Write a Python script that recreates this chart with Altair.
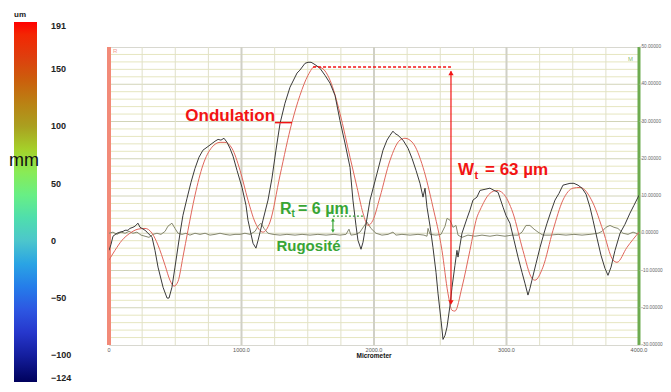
import altair as alt
import pandas as pd

# ---------------- data ----------------
profile_x = [0, 15, 30, 60, 83, 106, 121, 143, 158, 181, 196, 219, 234, 249, 272, 287, 325, 347, 370, 408,
             438, 453, 475, 498, 536, 558, 589, 619, 649, 679, 709, 740, 770, 800, 823, 845, 868, 891, 913, 936,
             966, 1004, 1034, 1049, 1087, 1109, 1125, 1162, 1200, 1230, 1260, 1291, 1328, 1366, 1419, 1441, 1479,
             1502, 1525, 1540, 1562, 1592, 1630, 1668, 1706, 1743, 1781, 1819, 1841, 1864, 1879, 1902, 1917, 1932,
             1970, 2023, 2068, 2098, 2121, 2143, 2158, 2181, 2219, 2257, 2287, 2317, 2347, 2370, 2385, 2400, 2423,
             2445, 2468, 2483, 2506, 2521, 2536, 2551, 2574, 2589, 2611, 2626, 2634, 2649, 2664, 2702, 2724, 2747,
             2777, 2800, 2838, 2875, 2906, 2936, 2974, 2996, 3026, 3057, 3087, 3117, 3139, 3162, 3177, 3192, 3223,
             3253, 3283, 3306, 3336, 3366, 3396, 3426, 3457, 3479, 3509, 3540, 3570, 3600, 3630, 3653, 3683, 3713,
             3743, 3766, 3789, 3819, 3857, 3894, 3932, 3962, 4000]
profile_y = [-4.6, -3.0, -0.8, 0.0, 0.3, 0.5, 0.8, 0.8, 1.3, 1.6, 1.9, 2.7, 1.6, 1.3, 0.8, 0.3, -1.1, -4.6, -9.1, -14.5,
             -17.4, -17.4, -14.5, -9.1, 0.0, 4.8, 9.4, 13.7, 17.4, 20.4, 22.3, 23.1, 23.9, 24.7, 25.2, 25.0, 25.5, 24.4, 22.8, 20.7,
             16.9, 12.3, 7.5, 3.5, -2.7, -4.0, -1.9, 3.5, 8.9, 14.8, 22.3, 29.5, 34.9, 39.2, 43.0, 43.8, 45.6,
             45.9, 45.9, 45.6, 45.1, 44.3, 42.4, 40.3, 37.0, 30.3, 24.2, 17.7, 8.9, 2.1, -1.9, -4.3, -2.4, 0.8,
             8.9, 16.1, 22.3, 25.0, 26.3, 27.4, 26.8, 26.3, 25.0, 22.8, 20.1, 16.9, 13.4, 9.7, 12.1, 7.0, 1.9,
             -3.8, -10.5, -16.1, -23.4, -28.5, -27.4, -25.2, -19.3, -14.5, -8.6, -4.6, -6.4, -3.2, 0.0, 4.0, 6.2, 8.9,
             9.7, 11.5, 11.8, 12.1, 11.5, 11.0, 7.0, 4.8, 2.7, -1.9, -6.4, -10.5, -13.4, -16.6, -14.8, -12.6, -8.1,
             -3.8, 0.0, 2.7, 5.9, 8.9, 10.7, 12.9, 13.2, 13.4, 13.4, 12.9, 12.1, 10.5, 7.0, 3.5, -1.3, -5.9,
             -9.4, -11.3, -9.1, -4.6, 0.0, 2.4, 5.4, 7.5, 10.2]

wave_x = [0, 45, 98, 158, 219, 272, 325, 370, 423, 460, 491, 521, 558, 596, 649, 709, 777, 838, 875, 928,
          989, 1049, 1102, 1162, 1215, 1291, 1381, 1441, 1502, 1555, 1608, 1668, 1743, 1819, 1872, 1917, 1955,
          1992, 2045, 2121, 2196, 2234, 2294, 2370, 2445, 2513, 2558, 2589, 2611, 2664, 2724, 2777, 2800, 2875,
          2928, 2974, 3049, 3124, 3192, 3215, 3275, 3351, 3426, 3502, 3555, 3653, 3728, 3804, 3834, 3909, 4000]
wave_y = [-7.2, -4.6, -1.9, 0.0, 1.1, 1.3, 0.0, -3.2, -8.6, -12.6, -14.2, -12.9, -6.4, 0.8, 10.2, 18.3, 23.1, 24.4, 24.4, 22.8,
          16.9, 8.9, 3.0, 0.3, 3.0, 15.6, 29.8, 37.0, 42.4, 44.8, 44.3, 41.1, 32.2, 20.4, 12.3, 5.4, 2.1,
          3.5, 9.7, 19.6, 25.0, 25.5, 24.2, 17.7, 7.0, -4.6, -16.1, -20.7, -20.9, -14.5, -4.6, 4.3, 6.2, 10.7,
          11.5, 10.7, 5.4, -4.6, -12.1, -12.6, -9.1, 0.8, 8.9, 12.1, 12.3, 8.1, 0.8, -7.2, -7.8, -3.8, 0.3]

rough_x = [0, 30, 60, 91, 121, 151, 181, 211, 242, 272, 302, 332, 362, 392, 423, 445, 475, 498, 521, 551,
           581, 611, 649, 687, 725, 762, 800, 838, 875, 913, 951, 989, 1026, 1064, 1102, 1125, 1147, 1170, 1200,
           1238, 1291, 1343, 1404, 1457, 1517, 1577, 1638, 1698, 1743, 1789, 1811, 1826, 1864, 1894, 1924, 1947,
           1977, 2015, 2060, 2106, 2143, 2166, 2211, 2272, 2332, 2377, 2400, 2408, 2423, 2468, 2506, 2536, 2551,
           2574, 2596, 2619, 2634, 2664, 2709, 2762, 2815, 2875, 2928, 2989, 3041, 3087, 3117, 3147, 3177, 3208,
           3238, 3275, 3328, 3389, 3449, 3509, 3570, 3630, 3691, 3721, 3751, 3781, 3811, 3841, 3879, 3917, 3955, 4000]
rough_y = [0.0, 0.3, -0.3, 0.3, 0.0, 0.5, 0.0, 0.3, -0.5, -0.8, -1.1, -0.3, 0.0, -0.3, 0.5, 1.9, 2.7, 1.3, 0.0, -0.3,
           0.0, -0.5, 0.0, -0.3, 0.0, -0.5, -0.3, 0.0, -0.3, -0.5, -0.3, -0.3, 0.0, -0.3, 0.5, 1.9, 2.7, 1.3, 0.0,
           -0.3, -0.5, -0.3, -0.5, -0.3, -0.5, -0.3, -0.5, -0.3, -0.5, -0.3, 1.1, -0.5, -0.3, 0.3, 1.9, 3.0,
           1.3, 0.0, -0.5, -0.3, 0.3, -0.5, -0.3, -0.5, -0.3, -0.5, -0.8, 1.3, -0.3, -0.5, -0.3, 1.9, 4.0,
           3.5, 1.6, 2.1, -0.5, -1.1, -0.5, -0.8, -0.5, -0.8, -0.5, -0.8, -0.5, -0.5, 0.3, 2.1, 2.1, 1.1,
           0.3, -0.5, -0.5, -0.3, -0.5, -0.3, -0.5, -0.3, 0.0, 0.5, 1.6, 2.1, 1.6, 1.3, 0.0, -0.3, 0.3, -0.3]

scale_ticks = [191, 150, 100, 50, 0, -50, -100, -124]
scale_stops = [-124, -100, -75, -50, -25, 0, 25, 50, 75, 100, 125, 150, 191]
scale_colors = ["#00005a", "#141e9e", "#2a3ed8", "#3366e8", "#3f9ae6", "#4cc6cc", "#5fe3a0",
                "#78f56e", "#a0dc32", "#aaa020", "#bd7a16", "#d44614", "#ff0000"]
x_ticks = [0, 1000, 2000, 3000, 4000]
x_tick_labels = ["0", "1000.0", "2000.0", "3000.0", "4000.0"]
y_ticks = [-30, -20, -10, 0, 10, 20, 30, 40, 50]
y_tick_labels = ["-30.00000", "-20.00000", "-10.00000", "0.00000", "10.00000", "20.00000",
                 "30.00000", "40.00000", "50.00000"]

X = alt.Scale(domain=[0, 4000], nice=False, zero=False)
Y = alt.Scale(domain=[-30, 50], nice=False, zero=False)
FONT = "Liberation Sans"
RED = "#f21414"
GREEN = "#38a535"


def xq():
    return alt.X("x:Q", scale=X, axis=None)


def yq():
    return alt.Y("y:Q", scale=Y, axis=None)


# ---------------- gridlines ----------------
vmin = pd.DataFrame({"x": [v for v in range(250, 4000, 250) if v % 1000]})
vmaj = pd.DataFrame({"x": [1000, 2000, 3000]})
hmin = pd.DataFrame({"y": [v for v in range(-28, 50, 2) if v % 10]})
hmaj = pd.DataFrame({"y": [-20, -10, 0, 10, 20, 30, 40]})

grid = [
    alt.Chart(hmin).mark_rule(color="#e6e6c0", strokeWidth=1).encode(y=yq()),
    alt.Chart(hmaj).mark_rule(color="#d2d4b8", strokeWidth=1).encode(y=yq()),
    alt.Chart(vmin).mark_rule(color="#e0e0c8", strokeWidth=1).encode(x=xq()),
    alt.Chart(vmaj).mark_rule(color="#d0d0c6", strokeWidth=2).encode(x=xq()),
]

# ---------------- axis labels as text on the scales ----------------
xlab = alt.Chart(pd.DataFrame({"x": x_ticks, "y": [-30] * len(x_ticks), "t": x_tick_labels})).mark_text(
    fontSize=5.5, font=FONT, color="#555", baseline="middle", align="center", dy=5).encode(
    x=xq(), y=yq(), text="t:N")
xtitle = alt.Chart(pd.DataFrame({"x": [2000], "y": [-30], "t": ["Micrometer"]})).mark_text(
    fontSize=6.5, font=FONT, fontWeight="bold", color="#111", baseline="middle", align="center", dy=11).encode(
    x=xq(), y=yq(), text="t:N")
ylab = alt.Chart(pd.DataFrame({"x": [4000] * len(y_ticks), "y": y_ticks, "t": y_tick_labels})).mark_text(
    fontSize=4.7, font=FONT, color="#666", baseline="middle", align="left", dx=2.5).encode(
    x=xq(), y=yq(), text="t:N")
ytick = alt.Chart(pd.DataFrame({"y": y_ticks})).mark_tick(
    color="#bbb", size=3, thickness=1, orient="horizontal", xOffset=2).encode(
    x=alt.value(530), y=yq())

# edge bars
left_bar = alt.Chart(pd.DataFrame({"x": [0]})).mark_rule(color="#f28a78", strokeWidth=4).encode(x=xq())
right_bar = alt.Chart(pd.DataFrame({"x": [4000]})).mark_rule(color="#6dab50", strokeWidth=3).encode(x=xq())

# series
rough = alt.Chart(pd.DataFrame({"x": rough_x, "y": rough_y})).mark_line(
    color="#85876e", strokeWidth=1, clip=True).encode(x=xq(), y=yq())
wave = alt.Chart(pd.DataFrame({"x": wave_x, "y": wave_y})).mark_line(
    color="#e0665c", strokeWidth=1, interpolate="monotone", clip=True).encode(x=xq(), y=yq())
profile = alt.Chart(pd.DataFrame({"x": profile_x, "y": profile_y})).mark_line(
    color="#3a3a3a", strokeWidth=1, clip=True).encode(x=xq(), y=yq())


# ---------------- annotations ----------------
def txt(x, y, text, color, size, align="left", dx=0, dy=0, weight="bold"):
    return alt.Chart(pd.DataFrame({"x": [x], "y": [y], "t": [text]})).mark_text(
        color=color, fontSize=size, font=FONT, fontWeight=weight, align=align, baseline="middle",
        dx=dx, dy=dy).encode(x=xq(), y=yq(), text="t:N")


def seg(x1, y1, x2, y2, color, width=1.5, dash=None):
    kw = dict(color=color, strokeWidth=width)
    if dash:
        kw["strokeDash"] = dash
    return alt.Chart(pd.DataFrame({"x": [x1], "y": [y1], "x2": [x2], "y2": [y2]})).mark_rule(**kw).encode(
        x=xq(), y=yq(), x2="x2:Q", y2="y2:Q")


def head(x, y, shape, color, size):
    return alt.Chart(pd.DataFrame({"x": [x], "y": [y]})).mark_point(
        shape=shape, filled=True, color=color, size=size, opacity=1).encode(x=xq(), y=yq())


annot = [
    txt(1253, 31.5, "Ondulation", RED, 17, align="right"),
    seg(1253, 29.7, 1381, 29.7, RED, 1.5),
    seg(1540, 44.6, 2581, 44.6, RED, 1.5, [3, 2]),
    seg(2581, 43.5, 2581, -18.5, RED, 1.2),
    head(2581, 43.0, "triangle-up", RED, 28),
    head(2581, -18.6, "triangle-down", RED, 28),
    txt(2634, 16.9, "W", RED, 17),
    txt(2634, 16.9, "t", RED, 11, dx=16.5, dy=6),
    txt(2634, 16.9, "= 63 µm", RED, 17, dx=27),
    txt(1291, 6.6, "R", GREEN, 16),
    txt(1291, 6.6, "t", GREEN, 10, dx=11.5, dy=5),
    txt(1291, 6.6, "= 6 µm", GREEN, 16, dx=18),
    seg(1690, 4.6, 1932, 4.6, GREEN, 1.2, [2, 2]),
    seg(1690, 3.8, 1690, 0.6, GREEN, 1.2),
    head(1690, 3.6, "triangle-up", GREEN, 14),
    head(1690, 0.6, "triangle-down", GREEN, 14),
    txt(1506, -3.5, "Rugosité", GREEN, 15, align="center"),
    txt(30, 48.8, "R", "#f2a090", 6, weight="normal"),
    txt(3917, 46.7, "M", "#8cc070", 6, weight="normal"),
]

# colour bar (as a gradient legend); labels padded with no-break spaces to sit right-aligned
NB = "\u00a0"
label_expr = ("datum.value >= 100 || datum.value <= -100 ? datum.label : "
              "(datum.value < 0 ? '" + NB + "' + datum.label : "
              "(datum.value >= 10 ? '" + NB * 2 + "' + datum.label : '" + NB * 4 + "' + datum.label))")
cbar = alt.Chart(pd.DataFrame({"v": scale_ticks})).mark_point(size=0, filled=True, fillOpacity=0).encode(
    color=alt.Color("v:Q", scale=alt.Scale(domain=scale_stops, range=scale_colors),
                    legend=alt.Legend(orient="none", legendX=-95, legendY=-36, direction="vertical",
                                      title="um", titleFontSize=8, titleFont=FONT, titleFontWeight="bold",
                                      titleColor="#222", titlePadding=3, gradientLength=361,
                                      gradientThickness=23, gradientStrokeWidth=0, values=scale_ticks,
                                      labelFontSize=9, labelFont=FONT, labelFontWeight="bold",
                                      labelColor="#222", labelOffset=14, labelExpr=label_expr,
                                      labelOverlap=False)))

chart = alt.layer(*grid, left_bar, right_bar, rough, wave, profile, xlab, xtitle, ylab, ytick,
                  *annot, cbar).properties(
    width=530, height=298,
    autosize=alt.AutoSizeParams(type="none"),
    padding={"left": 101, "top": 39, "right": 24, "bottom": 37},
    title=alt.TitleParams(text="mm", orient="top", anchor="start", frame="group", align="right",
                          baseline="middle", dx=-70, dy=168, offset=0, fontSize=18, font=FONT,
                          fontWeight="normal", color="#111"),
).configure_view(fill="#f9f9d3", stroke="#d8d8d0")

chart.save("out.html", embed_options={"renderer": "svg", "actions": False})
